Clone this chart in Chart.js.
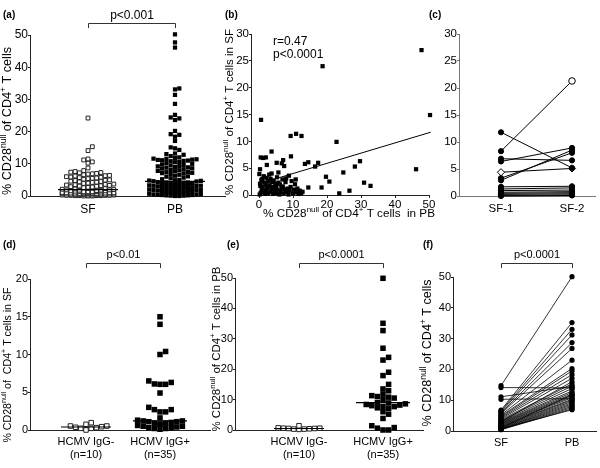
<!DOCTYPE html>
<html>
<head>
<meta charset="utf-8">
<script src="https://cdn.jsdelivr.net/npm/chart.js"></script>
<style>
  body { margin: 0; background: #fff; }
  #fig { position: relative; width: 600px; height: 468px; }
  #fig canvas { position: absolute; left: 0; top: 0; }
</style>
</head>
<body>
<div id="fig">
  <canvas id="pa" width="600" height="468"></canvas>
  <canvas id="pb" width="600" height="468"></canvas>
  <canvas id="pc" width="600" height="468"></canvas>
  <canvas id="pd" width="600" height="468"></canvas>
  <canvas id="pe" width="600" height="468"></canvas>
  <canvas id="pf" width="600" height="468"></canvas>
</div>
<script>
// (a) % CD28null of CD4+ T cells, synovial fluid vs peripheral blood
const sfA = [24.2, 15.3, 14.1, 11.5, 11.2, 10.6, 10.2, 8.7, 7.9,
  7.6, 7.4, 7.3, 7.2, 7.0, 6.9, 6.8, 6.6,
  6.4, 6.3, 6.2, 6.0, 5.9, 5.8, 5.7, 5.6, 5.5, 5.4,
  5.2, 5.0, 4.9, 4.8, 4.6, 4.5, 4.4, 4.3, 4.2, 4.0, 3.9,
  3.7, 3.6, 3.5, 3.4, 3.3, 3.2, 3.1, 3.0, 2.9, 2.8, 2.7, 2.6,
  2.5, 2.4, 2.3, 2.2, 2.1, 2.0, 1.9, 1.9, 1.8, 1.8, 1.7, 1.6, 1.5, 1.5,
  1.4, 1.3, 1.3, 1.2, 1.1, 1.0, 1.0, 0.9, 0.9, 0.8, 0.8, 0.7, 0.7, 0.6,
  0.6, 0.5, 0.5, 0.4, 0.4, 0.3, 0.3, 0.2, 0.2, 0.2, 0.1, 0.1, 0.1, 0.0,
  1.2, 1.1, 0.9, 0.8, 0.6, 0.5, 0.4, 0.3, 0.2, 0.0, 1.4, 1.0, 0.7, 0.3, 0.1, 0.0,
  0.5, 0.9, 1.3, 1.6];
const pbA = [50.2, 47.7, 46.1, 33.4, 33.1, 31.4, 28.6, 25.2, 24.4, 24.1, 23.6, 20.2,
  19.2, 19.0, 18.4, 17.1, 15.1, 14.8, 14.3, 13.2, 13.0, 12.8, 12.4, 12.0,
  11.8, 11.6, 11.5, 11.4, 11.3, 11.2, 11.1, 11.0, 10.9, 10.8, 10.6, 10.5,
  10.2, 10.0, 9.8, 9.6, 9.5, 9.3, 9.2, 9.0, 8.9, 8.8, 8.6, 8.5,
  8.3, 8.1, 8.0, 7.8, 7.7, 7.5, 7.4, 7.2, 7.1, 7.0,
  6.8, 6.6, 6.3, 6.1, 6.0, 5.7, 5.5, 5.2,
  5.0, 4.9, 4.8, 4.7, 4.6, 4.5,
  4.3, 4.2, 4.1, 4.0, 4.0, 3.9, 3.8, 3.7, 3.6, 3.5, 3.4, 3.3, 3.2, 3.1,
  3.0, 2.9, 2.8, 2.7, 2.6, 2.5, 2.4, 2.3, 2.2, 2.1, 2.0, 1.9, 1.8, 1.7,
  1.6, 1.5, 1.4, 1.3, 1.2, 1.1, 1.0, 0.9, 0.8, 0.7, 0.6, 0.5, 0.4, 0.3,
  0.2, 0.1, 0.0, 3.9, 3.6, 3.2, 2.9, 2.5, 2.1, 1.7, 1.3, 0.9, 0.5, 0.2,
  4.2, 3.8, 3.4, 3.0, 2.7, 2.3, 1.9, 1.5, 1.1, 0.7, 0.3, 0.1, 0.0, 2.0];

// (b) PB (x) vs SF (y), same patients
const pbB = [0.6, 9.3, 10.9, 12.5, 22.8, 3.7, 0.5, 1.2, 2.0, 9.4, 7.1, 6.7, 5.2, 7.4, 2.3,
  13.5, 14.5, 16.5, 17.4, 0.3, 5.7, 19.7, 20.7, 24.8, 28.2, 29.7, 30.9, 32.8, 14.5, 18.4,
  23.6, 26.6, 46.2, 47.8, 50.3, 18.7,
  0.2, 0.5, 0.8, 1.1, 0.3, 0.7, 1.4, 0.1, 1.8, 2.1, 2.4, 2.0, 2.7, 2.2, 3.0, 3.3, 3.6, 3.1,
  3.9, 3.4, 4.2, 4.5, 4.0, 4.8, 4.3, 5.1, 5.4, 5.0, 5.7, 5.3, 6.0, 6.3, 6.6, 6.1, 6.9, 7.2,
  7.5, 7.0, 7.8, 8.1, 8.4, 8.0, 8.7, 9.0, 9.3, 9.6, 10.0, 10.3, 10.6, 11.0, 11.3, 11.6,
  12.0, 12.4, 12.8, 1.5, 0.9, 0.4, 1.6, 1.0, 2.6, 8.8, 10.8, 3.7];
const sfB = [14.0, 11.0, 11.4, 11.0, 9.9, 8.1, 7.0, 6.9, 7.0, 7.2, 6.5, 5.9, 6.0, 5.4, 5.6,
  5.8, 6.1, 5.3, 6.0, 4.8, 4.2, 3.4, 2.5, 4.2, 5.3, 6.3, 2.3, 1.7, 1.4, 1.4,
  0.3, 0.8, 4.8, 27.0, 14.9, 24.0,
  0.1, 0.4, 0.9, 1.5, 2.1, 2.8, 3.5, 3.9, 0.2, 0.8, 1.3, 2.0, 2.6, 3.2, 3.8, 0.5, 1.1, 1.8,
  2.4, 3.0, 0.2, 0.9, 1.5, 2.1, 2.7, 0.4, 1.0, 1.7, 2.3, 3.3, 0.1, 0.7, 1.3, 2.0, 2.9, 0.3,
  1.0, 1.6, 2.4, 0.5, 1.2, 3.1, 0.1, 0.8, 1.5, 2.6, 0.3, 1.0, 2.0, 0.5, 1.2, 0.2,
  0.8, 0.3, 0.6, 0.6, 1.2, 1.7, 2.3, 3.0, 0.3, 3.6, 2.9, 4.0];
const fitX = [0, 50.5];
const fitY = [2.1, 11.7];

// (c) two SF samples from the same patient
const sf1C = [8.3, 11.8, 6.9, 6.4, 4.4, 3.3, 2.9, 1.7, 1.3, 1.0, 0.7, 0.5, 0.3, 0.1, 0.0];
const sf2C = [21.3, 5.2, 6.6, 8.9, 5.1, 8.0, 8.5, 1.8, 1.5, 1.1, 0.8, 0.6, 0.4, 0.2, 0.1];

// (d) SF by HCMV serostatus
const negD = [0.53, 0.36, 0.22, 0.75, 0.0, 0.53, 0.22, 0.97, 0.31, 0.44];
const posD = [15.0, 14.0, 10.4, 10.0, 6.5, 6.3, 6.1, 6.05, 6.05, 4.9, 3.0, 2.7, 2.7, 2.4, 2.4,
  1.6, 1.3, 1.2, 1.2, 1.1, 1.1, 1.0, 0.9, 0.9, 0.8, 0.7, 0.6, 0.5, 0.5, 0.4, 0.3, 0.3, 0.2, 0.2, 0.1];

// (e) PB by HCMV serostatus
const negE = [0.3, 0.5, 0.2, 0.6, 0.4, 0.7, 0.5, 1.4, 0.6, 0.3];
const posE = [49.9, 35.1, 32.7, 26.9, 23.9, 23.0, 19.0, 17.9, 15.0, 13.5, 12.9, 11.8, 11.0, 11.3,
  10.8, 10.1, 8.9, 9.0, 8.6, 8.2, 8.0, 7.7, 7.3, 7.7, 7.1, 6.0, 5.2, 3.8, 1.4, 0.6, 0.0, 0.0, 0.8,
  8.4, 10.5];

// (f) paired SF / PB
const sfF = [14.7, 14.1, 11.1, 10.3, 6.8, 6.5, 6.2, 5.9, 5.6, 5.2, 4.9, 4.6, 4.3, 4.0, 3.7, 3.4,
  3.1, 2.9, 2.7, 2.5, 2.3, 2.1, 1.9, 1.7, 1.5, 1.3, 1.1, 0.9, 0.8, 0.6, 0.5, 0.4, 0.7, 1.0, 3.0];
const pbF = [50.1, 14.0, 14.5, 10.5, 35.2, 33.0, 31.2, 28.7, 26.8, 23.0, 20.3, 19.5, 18.3, 17.1,
  15.3, 14.6, 13.8, 13.0, 12.5, 12.0, 11.6, 11.2, 10.8, 10.3, 10.0, 9.6, 9.2, 8.8, 8.4, 8.0, 7.6,
  7.2, 6.9, 11.8, 16.0];

const groupsAF = ['SF', 'PB'];
const groupsC = ['SF-1', 'SF-2'];
const groupsDE = [['HCMV IgG-', '(n=10)'], ['HCMV IgG+', '(n=35)']];

const FONT = '"Liberation Sans", Arial, Helvetica, sans-serif';
const YW = 26;

Chart.defaults.font.family = FONT;
Chart.defaults.font.size = 12;
Chart.defaults.color = '#000';

function median(a) {
  const s = [...a].sort((x, y) => x - y), n = s.length;
  return n % 2 ? s[(n - 1) / 2] : (s[n / 2 - 1] + s[n / 2]) / 2;
}

// column scatter: spread points sideways so they don't sit on each other
function swarm(vals, c, ppx, ppy, size, half) {
  const order = vals.map((v, i) => i).sort((a, b) => vals[a] - vals[b]);
  const slots = [0];
  for (let k = 1; k * size <= half + 0.01; k++) slots.push(k * size, -k * size);
  const placed = [];
  const pts = [];
  order.forEach(i => {
    const py = vals[i] * ppy;
    let best = 0, bestHits = Infinity;
    for (const sx of slots) {
      let hits = 0;
      for (const p of placed) {
        if (Math.abs(p[0] - sx) < size * 0.9 && Math.abs(p[1] - py) < size * 0.9) hits++;
      }
      if (hits < bestHits) { best = sx; bestHits = hits; if (!hits) break; }
    }
    placed.push([best, py]);
    pts.push({ x: c + best / ppx, y: vals[i] });
  });
  return pts;
}

// axis titles with superscripts, squeezed to the length they have in the figure
function richText(ctx, parts, x, y, rot, len, size) {
  const big = size, small = size * 0.68;
  let w = 0;
  parts.forEach(p => { ctx.font = (p[1] ? small : big) + 'px ' + FONT; w += ctx.measureText(p[0]).width; });
  ctx.save();
  ctx.translate(x, y);
  if (rot) ctx.rotate(-Math.PI / 2);
  ctx.scale(len / w, 1);
  ctx.textAlign = 'left';
  ctx.textBaseline = 'middle';
  let cx = -w / 2;
  parts.forEach(p => {
    ctx.font = (p[1] ? small : big) + 'px ' + FONT;
    ctx.fillText(p[0], cx, p[1] ? -big * 0.35 : 0);
    cx += ctx.measureText(p[0]).width;
  });
  ctx.restore();
}

const extras = {
  id: 'extras',
  afterDatasetsDraw(chart, args, o) {
    const ctx = chart.ctx, fs = o.fs || 12;
    ctx.save();
    ctx.fillStyle = '#000';
    ctx.strokeStyle = '#333';
    ctx.lineWidth = 1;
    ctx.textBaseline = 'middle';
    if (o.tag) {
      ctx.font = 'bold 10px ' + FONT;
      ctx.textAlign = 'left';
      ctx.fillText(o.tag[0], o.tag[1], o.tag[2]);
    }
    if (o.bracket) {
      const xs = chart.scales.x, b = o.bracket;
      const x1 = Math.round(xs.getPixelForValue(1)) + 0.5;
      const x2 = Math.round(xs.getPixelForValue(2)) + 0.5;
      ctx.beginPath();
      ctx.moveTo(x1, b.y2);
      ctx.lineTo(x1, b.y1 + 0.5);
      ctx.lineTo(x2, b.y1 + 0.5);
      ctx.lineTo(x2, b.y2);
      ctx.stroke();
      ctx.font = fs + 'px ' + FONT;
      ctx.textAlign = 'center';
      ctx.fillText(b.text, (x1 + x2) / 2, b.ty);
    }
    (o.notes || []).forEach(n => {
      ctx.font = fs + 'px ' + FONT;
      ctx.textAlign = 'left';
      ctx.fillText(n[0], n[1], n[2]);
    });
    (o.titles || []).forEach(t => richText(ctx, t.parts, t.x, t.y, t.rot, t.len, t.size || 12));
    ctx.restore();
  }
};
Chart.register(extras);

function panel(id, g, datasets, extra) {
  const axisColor = g.axisColor || '#222';
  return new Chart(document.getElementById(id), {
    type: 'scatter',
    data: { datasets },
    options: {
      responsive: false,
      animation: false,
      events: [],
      layout: { padding: { left: g.l - YW, right: 600 - g.r, top: g.t, bottom: 468 - g.b - g.xH } },
      scales: {
        x: {
          type: 'linear', min: g.xMin, max: g.xMax,
          afterBuildTicks: s => { s.ticks = g.xTicks.map(v => ({ value: v })); },
          ticks: {
            autoSkip: false, maxRotation: 0, padding: g.xPad,
            font: { size: g.fs },
            callback: (v, i) => g.xLabels ? g.xLabels[i] : v
          },
          grid: { drawOnChartArea: false, drawTicks: !!g.xTickMarks, tickLength: 3, color: axisColor },
          border: { color: axisColor },
          afterFit: s => { s.height = g.xH; s.paddingLeft = 0; s.paddingRight = 0; }
        },
        y: {
          type: 'linear', min: 0, max: g.yMax,
          ticks: { stepSize: g.yStep, padding: 0, font: { size: g.fs } },
          grid: { drawOnChartArea: false, tickLength: 2, color: axisColor },
          border: { color: axisColor },
          afterFit: s => { s.width = YW; s.paddingTop = 0; s.paddingBottom = 0; }
        }
      },
      plugins: { legend: { display: false }, tooltip: { enabled: false }, extras: extra }
    }
  });
}

// category panels: groups sit at x = 1 and x = 2
function catGeom(g) {
  const unit = g.c2 - g.c1;
  g.xMin = 1 - (g.c1 - g.l) / unit;
  g.xMax = 2 + (g.r - g.c2) / unit;
  g.ppx = unit;
  g.ppy = (g.b - g.t) / g.yMax;
  g.xTicks = [1, 2];
  return g;
}

const dots = (data, style) => Object.assign({ data, showLine: false, clip: false }, style);
const openSq = r => ({ pointStyle: 'rect', pointRadius: r, backgroundColor: '#fff', borderColor: '#222', borderWidth: 1 });
const fillSq = r => ({ pointStyle: 'rect', pointRadius: r, backgroundColor: '#000', borderColor: '#000', borderWidth: 0 });
function medianLine(vals, c, halfPx, g) {
  const m = median(vals), h = halfPx / g.ppx;
  return { data: [{ x: c - h, y: m }, { x: c + h, y: m }], showLine: true, pointRadius: 0,
    borderColor: '#000', borderWidth: 1.2, clip: false, order: -1 };
}

const titleBase = [['% CD28', 0], ['null', 1], [' of CD4', 0], ['+', 1]];

// ---------- (a)
const gA = catGeom({ l: 30, r: 225, t: 35, b: 196, c1: 88, c2: 175, yMax: 50, yStep: 10,
  xH: 30, xPad: 6, fs: 12, xLabels: groupsAF });
panel('pa', gA, [
  medianLine(sfA, 1, 30, gA),
  medianLine(pbA, 2, 30, gA),
  dots(swarm(sfA, 1, gA.ppx, gA.ppy, 4.3, 27), openSq(2.7)),
  dots(swarm(pbA, 2, gA.ppx, gA.ppy, 4.3, 27), fillSq(3.0))
], {
  tag: ['(a)', 3, 15],
  bracket: { y1: 23, y2: 28, ty: 16, text: 'p<0.001' },
  titles: [{ parts: [...titleBase, [' T cells', 0]], x: 8, y: 121, rot: true, len: 148, size: 12 }]
});

// ---------- (b)
const gB = { l: 251, r: 429, t: 34, b: 195, xMin: -8 / 3.4, xMax: 50, yMax: 30, yStep: 5,
  xTicks: [0, 10, 20, 30, 40, 50], xTickMarks: true, xH: 30, xPad: 0, fs: 11.5 };
panel('pb', gB, [
  { data: fitX.map((x, i) => ({ x, y: fitY[i] })), showLine: true, pointRadius: 0,
    borderColor: '#000', borderWidth: 1, clip: false, order: -1 },
  dots(pbB.map((x, i) => ({ x, y: sfB[i] })), fillSq(3.0))
], {
  tag: ['(b)', 225, 15],
  notes: [['r=0.47', 273, 42], ['p<0.0001', 273, 55]],
  titles: [
    { parts: [...titleBase, [' T cells in SF', 0]], x: 230, y: 112, rot: true, len: 166, size: 11.5 },
    { parts: [...titleBase, [' T cells  in PB', 0]], x: 349, y: 214, rot: false, len: 172, size: 11.5 }
  ]
});

// ---------- (c)
const gC = catGeom({ l: 459, r: 595, t: 34, b: 196, c1: 501, c2: 572, yMax: 30, yStep: 5,
  xH: 30, xPad: 6, fs: 11.5, xLabels: groupsC, axisColor: '#777' });
panel('pc', gC, sf1C.map((a, i) => {
  let styles = ['circle', 'circle'], fills = ['#000', '#000'], radii = [2.6, 2.6];
  if (i === 0) { fills = ['#000', '#fff']; radii = [2.6, 3.3]; }
  if (i === 4) { styles = ['rectRot', 'rectRot']; fills = ['#fff', '#fff']; radii = [3.6, 3.6]; }
  return { data: [{ x: 1, y: a }, { x: 2, y: sf2C[i] }], showLine: true, clip: false,
    borderColor: '#000', borderWidth: 1, pointStyle: styles, pointRadius: radii,
    pointBackgroundColor: fills, pointBorderColor: '#000', pointBorderWidth: 1 };
}), { tag: ['(c)', 429, 15] });

// ---------- (d)
const gD = catGeom({ l: 30, r: 210, t: 279, b: 430, c1: 86, c2: 160, yMax: 20, yStep: 5,
  xH: 38, xPad: 5, fs: 11, xLabels: groupsDE });
panel('pd', gD, [
  medianLine(negD, 1, 25, gD),
  medianLine(posD, 2, 27, gD),
  dots(swarm(negD, 1, gD.ppx, gD.ppy, 5.2, 24), openSq(3.2)),
  dots(swarm(posD, 2, gD.ppx, gD.ppy, 5.6, 24), fillSq(3.9))
], {
  fs: 11,
  tag: ['(d)', 3, 245],
  bracket: { y1: 263, y2: 268, ty: 255, text: 'p<0.01' },
  titles: [{ parts: [['% CD28', 0], ['null', 1], [' of  CD4', 0], ['+', 1], [' T cells in SF', 0]],
    x: 8, y: 365, rot: true, len: 155, size: 11 }]
});

// ---------- (e)
const gE = catGeom({ l: 235, r: 423, t: 278, b: 430, c1: 299, c2: 383, yMax: 50, yStep: 10,
  xH: 38, xPad: 5, fs: 11, xLabels: groupsDE });
panel('pe', gE, [
  medianLine(negE, 1, 25, gE),
  medianLine(posE, 2, 27, gE),
  dots(swarm(negE, 1, gE.ppx, gE.ppy, 5.2, 24), openSq(3.2)),
  dots(swarm(posE, 2, gE.ppx, gE.ppy, 5.6, 24), fillSq(3.9))
], {
  fs: 11,
  tag: ['(e)', 227, 245],
  bracket: { y1: 263, y2: 268, ty: 255, text: 'p<0.0001' },
  titles: [{ parts: [...titleBase, [' T cells in PB', 0]], x: 217, y: 349, rot: true, len: 165, size: 10.5 }]
});

// ---------- (f)
const gF = catGeom({ l: 453, r: 596, t: 277, b: 431, c1: 501, c2: 572, yMax: 50, yStep: 10,
  xH: 36, xPad: 5, fs: 11, xLabels: groupsAF });
panel('pf', gF, sfF.map((a, i) => ({
  data: [{ x: 1, y: a }, { x: 2, y: pbF[i] }], showLine: true, clip: false,
  borderColor: '#000', borderWidth: 0.8, pointStyle: 'circle', pointRadius: 2.6,
  pointBackgroundColor: '#000', pointBorderWidth: 0
})), {
  fs: 11,
  tag: ['(f)', 423, 245],
  bracket: { y1: 263, y2: 268, ty: 255, text: 'p<0.0001' },
  titles: [{ parts: [...titleBase, [' T cells', 0]], x: 428, y: 353, rot: true, len: 147, size: 12 }]
});
</script>
</body>
</html>
